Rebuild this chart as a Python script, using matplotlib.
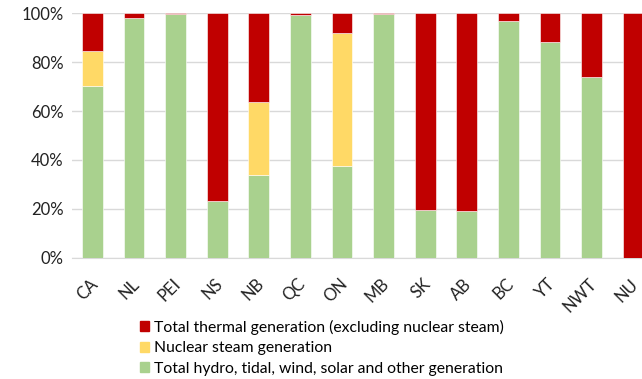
import matplotlib.pyplot as plt
import matplotlib.transforms as mtransforms
from matplotlib.patches import Patch

plt.rcParams['font.family'] = ['Lato', 'DejaVu Sans']

regions = ['CA', 'NL', 'PEI', 'NS', 'NB', 'QC', 'ON', 'MB', 'SK', 'AB', 'BC', 'YT', 'NWT', 'NU']
hydro = [70.3, 98.0, 99.8, 23.2, 34.0, 99.3, 37.6, 99.8, 19.6, 19.0, 96.9, 88.4, 73.8, 0.0]
nuclear = [14.3, 0, 0, 0, 29.7, 0, 54.2, 0, 0, 0, 0, 0, 0, 0]
thermal = [100 - h - n for h, n in zip(hydro, nuclear)]

c_thermal = '#C00000'
c_nuclear = '#FFD966'
c_hydro = '#A9D18E'

fig = plt.figure(figsize=(6.42, 3.79), dpi=100)
ax = fig.add_axes([0.112, 0.32, 0.888, 0.645])

x = range(len(regions))
w = 0.5
bottom2 = [h + n for h, n in zip(hydro, nuclear)]
ax.bar(x, hydro, w, color=c_hydro, edgecolor='white', linewidth=0.4, zorder=3)
ax.bar(x, nuclear, w, bottom=hydro, color=c_nuclear, edgecolor='white', linewidth=0.4, zorder=3)
ax.bar(x, thermal, w, bottom=bottom2, color=c_thermal, edgecolor='white', linewidth=0.4, zorder=3)

ax.set_xlim(-0.49, 13.21)
ax.set_ylim(0, 100)
ax.set_yticks([0, 20, 40, 60, 80, 100])
ax.set_yticklabels([f'{v}%' for v in [0, 20, 40, 60, 80, 100]], fontsize=12, color='#222222')
ax.set_xticks(list(x))
ax.set_xticklabels(regions, rotation=45, ha='right', rotation_mode='anchor', fontsize=12, color='#222222')
ax.tick_params(length=0, pad=6)
ax.tick_params(axis='x', pad=13)
shift = mtransforms.ScaledTranslation(-3 / 100, 0, fig.dpi_scale_trans)
for lbl in ax.get_xticklabels():
    lbl.set_transform(lbl.get_transform() + shift)
ax.grid(axis='y', color='#d9d9d9', linewidth=1, zorder=0)
for s in ['top', 'right', 'left']:
    ax.spines[s].set_visible(False)
ax.spines['bottom'].set_color('#d9d9d9')
ax.spines['bottom'].set_zorder(0)

handles = [Patch(color=c_thermal), Patch(color=c_nuclear), Patch(color=c_hydro)]
labels = ['Total thermal generation (excluding nuclear steam)',
          'Nuclear steam generation',
          'Total hydro, tidal, wind, solar and other generation']
fig.legend(handles, labels, loc='upper left', bbox_to_anchor=(0.218, 0.157),
           frameon=False, fontsize=11.3, handlelength=0.6, handleheight=0.6,
           handletextpad=0.3, labelspacing=0.42, borderaxespad=0, borderpad=0)

fig.savefig('out.png', dpi=100)
